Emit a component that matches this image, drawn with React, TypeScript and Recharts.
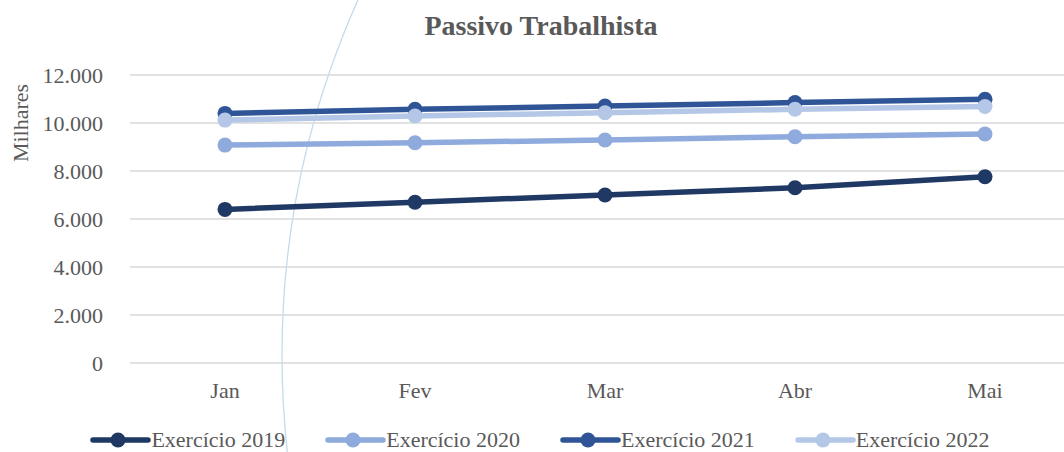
import React from 'react';
import { LineChart, Line, XAxis, YAxis, CartesianGrid, Legend, Label } from 'recharts';

const months = ['Jan', 'Fev', 'Mar', 'Abr', 'Mai'];
const ex2019 = [6400, 6700, 7000, 7300, 7760];
const ex2020 = [9080, 9180, 9290, 9430, 9540];
const ex2021 = [10400, 10570, 10710, 10850, 10990];
const ex2022 = [10120, 10290, 10430, 10570, 10690];
const yTicks = [0, 2000, 4000, 6000, 8000, 10000, 12000];

const seriesInfo = [
  { key: 'e2019', name: 'Exercício 2019', color: '#203864' },
  { key: 'e2020', name: 'Exercício 2020', color: '#8FAADC' },
  { key: 'e2021', name: 'Exercício 2021', color: '#2F5597' },
  { key: 'e2022', name: 'Exercício 2022', color: '#B4C7E7' },
];

const data = months.map((m, i) => ({
  month: m,
  e2019: ex2019[i],
  e2020: ex2020[i],
  e2021: ex2021[i],
  e2022: ex2022[i],
}));

const FONT = '"Liberation Serif", "Times New Roman", serif';
const TEXT = '#595959';

const fmt = (v: number) => String(v).replace(/\B(?=(\d{3})+(?!\d))/g, '.');

const LegendContent = () => (
  <div
    style={{
      height: 45,
      paddingTop: 21,
      boxSizing: 'border-box',
      display: 'flex',
      justifyContent: 'center',
      gap: 40,
      fontFamily: FONT,
      fontSize: 22,
      color: TEXT,
    }}
  >
    {seriesInfo.map((s) => (
      <div key={s.key} style={{ display: 'flex', alignItems: 'center', height: 24 }}>
        <svg width={61} height={20} style={{ display: 'block' }}>
          <line x1={3} y1={10} x2={58} y2={10} stroke={s.color} strokeWidth={5.5} strokeLinecap="round" />
          <circle cx={28} cy={10} r={7.5} fill={s.color} />
        </svg>
        <span style={{ lineHeight: '24px', whiteSpace: 'nowrap' }}>{s.name}</span>
      </div>
    ))}
  </div>
);

export default function App() {
  return (
    <div style={{ position: 'absolute', left: 0, top: 0, width: 1064, height: 452, overflow: 'hidden', background: '#fff' }}>
      <svg width={1064} height={452} style={{ position: 'absolute', left: 0, top: 0 }}>
        <circle cx={1149} cy={355} r={867} fill="none" stroke="#c3dceb" strokeWidth={1.3} />
        <text x={541} y={35} textAnchor="middle" fontFamily={FONT} fontSize={28} fontWeight="bold" fill={TEXT}>
          Passivo Trabalhista
        </text>
      </svg>
      <div style={{ position: 'absolute', left: 0, top: 0 }}>
        <LineChart width={1090} height={452} data={data} margin={{ top: 75, right: 10, bottom: 0, left: 0 }}>
          <CartesianGrid vertical={false} stroke="#d9d9d9" strokeWidth={1.5} />
          <XAxis
            dataKey="month"
            axisLine={false}
            tickLine={false}
            tickSize={0}
            tickMargin={19}
            height={44}
            padding={{ left: 95, right: 95 }}
            tick={{ fill: TEXT, fontSize: 22, fontFamily: FONT }}
          />
          <YAxis
            domain={[0, 12000]}
            ticks={yTicks}
            width={130}
            axisLine={false}
            tickLine={false}
            tickSize={0}
            tickMargin={27}
            tickFormatter={fmt}
            tick={{ fill: TEXT, fontSize: 22, fontFamily: FONT }}
          >
            <Label
              content={() => (
                <text
                  x={20}
                  y={123}
                  transform="rotate(-90 20 123)"
                  textAnchor="middle"
                  dominantBaseline="central"
                  fontFamily={FONT}
                  fontSize={22}
                  fill={TEXT}
                >
                  Milhares
                </text>
              )}
            />
          </YAxis>
          <Legend verticalAlign="bottom" content={<LegendContent />} />
          {seriesInfo.map((s) => (
            <Line
              key={s.key}
              type="linear"
              dataKey={s.key}
              name={s.name}
              stroke={s.color}
              strokeWidth={5.5}
              dot={{ r: 7.5, fill: s.color, stroke: s.color, strokeWidth: 0 }}
              activeDot={false}
              isAnimationActive={false}
            />
          ))}
        </LineChart>
      </div>
    </div>
  );
}
